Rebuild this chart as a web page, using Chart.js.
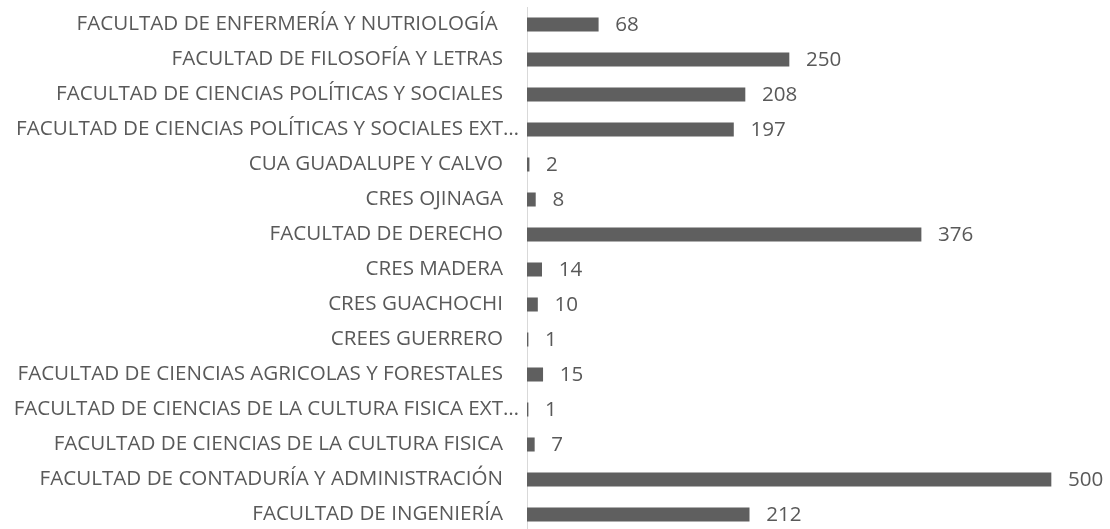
<!DOCTYPE html>
<html>
<head>
<meta charset="utf-8">
<script src="https://cdn.jsdelivr.net/npm/chart.js@4/dist/chart.umd.min.js"></script>
<style>
  html, body { margin: 0; padding: 0; background: #ffffff; overflow: hidden; }
  #wrap { width: 1110px; height: 532px; }
</style>
</head>
<body>
<div id="wrap"><canvas id="c" width="1110" height="532"></canvas></div>
<script>
const categories = [
  "FACULTAD DE ENFERMERÍA Y NUTRIOLOGÍA ",
  "FACULTAD DE FILOSOFÍA Y LETRAS",
  "FACULTAD DE CIENCIAS POLÍTICAS Y SOCIALES",
  "FACULTAD DE CIENCIAS POLÍTICAS Y SOCIALES EXT…",
  "CUA GUADALUPE Y CALVO",
  "CRES OJINAGA",
  "FACULTAD DE DERECHO",
  "CRES MADERA",
  "CRES GUACHOCHI",
  "CREES GUERRERO",
  "FACULTAD DE CIENCIAS AGRICOLAS Y FORESTALES",
  "FACULTAD DE CIENCIAS DE LA CULTURA FISICA EXT…",
  "FACULTAD DE CIENCIAS DE LA CULTURA FISICA",
  "FACULTAD DE CONTADURÍA Y ADMINISTRACIÓN",
  "FACULTAD DE INGENIERÍA"
];
const values = [68, 250, 208, 197, 2, 8, 376, 14, 10, 1, 15, 1, 7, 500, 212];
const axisMin = 0;
const axisMax = 550;

const FONT = { family: "'Open Sans', sans-serif", size: 20.6 };
const TEXT = "#595959";

// truncated (ellipsis) labels sit closer to the axis, as in the original
const shiftTruncated = {
  id: "shiftTruncated",
  beforeDraw(chart) {
    const s = chart.scales.y;
    const items = s.getLabelItems();
    items.forEach((it) => {
      const lbl = Array.isArray(it.label) ? it.label.join(" ") : String(it.label);
      if (lbl.endsWith("…") && !it._shifted) {
        it.options.translation[0] += 16;
        it._shifted = true;
      }
    });
  }
};

const valueLabels = {
  id: "valueLabels",
  afterDatasetsDraw(chart) {
    const ctx = chart.ctx;
    const meta = chart.getDatasetMeta(0);
    ctx.save();
    ctx.font = FONT.size + "px " + FONT.family;
    ctx.fillStyle = TEXT;
    ctx.textAlign = "left";
    ctx.textBaseline = "middle";
    meta.data.forEach((bar, i) => {
      ctx.fillText(String(values[i]), bar.x + 17, bar.y + 1);
    });
    ctx.restore();
  }
};

new Chart(document.getElementById("c"), {
  type: "bar",
  data: {
    labels: categories,
    datasets: [{
      data: values,
      backgroundColor: "#5f5f5f",
      borderWidth: 0,
      barThickness: 13.5
    }]
  },
  options: {
    indexAxis: "y",
    responsive: false,
    animation: false,
    layout: { padding: { top: 7, bottom: 0, left: 0, right: 6.6 } },
    plugins: { legend: { display: false }, tooltip: { enabled: false } },
    scales: {
      x: { display: false, min: axisMin, max: axisMax },
      y: {
        afterFit(s) { s.width = 527; s.paddingTop = 0; s.paddingBottom = 0; },
        grid: { display: false, drawTicks: false },
        border: { display: true, color: "#d9d9d9", width: 1 },
        ticks: { color: TEXT, font: FONT, padding: 24, autoSkip: false }
      }
    }
  },
  plugins: [shiftTruncated, valueLabels]
});
</script>
</body>
</html>
